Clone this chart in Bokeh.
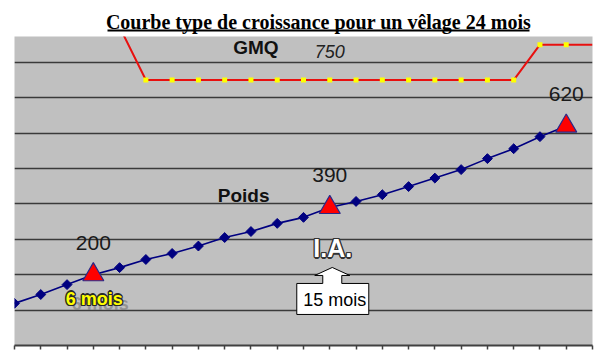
import numpy as np
from bokeh.plotting import figure
from bokeh.layouts import column
from bokeh.models import Range1d, FixedTicker, ColumnDataSource, CustomJSTickFormatter, CDSView, BooleanFilter
from bokeh.core.properties import value
from bokeh.embed import file_html
from bokeh.resources import INLINE

# ---------------- data ----------------
title_text = "Courbe type de croissance pour un vêlage 24 mois"

months = [3, 4, 5, 6, 7, 8, 9, 10, 11, 12, 13, 14, 15, 16, 17, 18, 19, 20, 21, 22, 23, 24]
poids = [119, 144, 172, 200, 220, 243, 260, 281, 305, 322, 345, 362, 390, 407, 426, 449, 473, 497, 528, 556, 590, 620]

key_months = [6, 15, 24]
key_poids = [200, 390, 620]
key_labels = ["200", "390", "620"]

gmq_months = [7, 8, 9, 10, 11, 12, 13, 14, 15, 16, 17, 18, 19, 20, 21, 22, 23, 24, 25]
gmq = [900, 750, 750, 750, 750, 750, 750, 750, 750, 750, 750, 750, 750, 750, 750, 750, 850, 850, 850]
gmq_label_month = 15

grid_values = [100, 200, 300, 400, 500, 600, 700, 800]
tick_months = [3, 4, 5, 6, 7, 8, 9, 10, 11, 12, 13, 14, 15, 16, 17, 18, 19, 20, 21, 22, 23, 24, 25]

ia_month = 15
ia_poids = 390

# ---------------- layout constants ----------------
W = 604
TOP_H = 36
MAIN_H = 322
BL, BR, BT, BB = 14, 12, 0, 13
X0, X1 = 3, 25
Y0, Y1 = 0, 873
X_PX = (W - BL - BR) / (X1 - X0)
Y_PX = (MAIN_H - BT - BB) / (Y1 - Y0)
LIFT = -5  # text baseline correction in screen px

SANS = value("Liberation Sans")


def outlined_text(fig, x, y, text, color, outline, size, xo, yo, style="bold"):
    for dx, dy in [(-1, -1), (1, -1), (-1, 1), (1, 1), (0, -1.3), (0, 1.3), (-1.3, 0), (1.3, 0)]:
        fig.text(x=x, y=y, text=text, text_font=SANS, text_font_style=style,
                 text_font_size=size, text_align="center", text_baseline="alphabetic",
                 text_color=outline, x_offset=xo + dx, y_offset=yo + dy)
    fig.text(x=x, y=y, text=text, text_font=SANS, text_font_style=style,
             text_font_size=size, text_align="center", text_baseline="alphabetic",
             text_color=color, x_offset=xo, y_offset=yo)


# ---------------- title figure (pixel coordinates; frames are aligned by the column) ----------------
ft = figure(width=W, height=TOP_H, x_range=Range1d(BL, W - BR), y_range=Range1d(TOP_H, 0),
            toolbar_location=None, output_backend="svg",
            x_axis_location=None, y_axis_location=None,
            min_border_left=BL, min_border_right=BR, min_border_top=0, min_border_bottom=0)
ft.outline_line_color = None
ft.grid.visible = False
ft.background_fill_color = "white"
ft.border_fill_color = "white"
ft.text(x=[318], y=[26], text=[title_text], text_font=value("Liberation Serif"),
        text_font_style="bold", text_font_size="20px", text_align="center",
        text_baseline="alphabetic", text_color="black", y_offset=LIFT)
ft.segment(x0=[107], x1=[529], y0=[30], y1=[30], line_width=2, line_color="black")

# ---------------- main figure ----------------
p = figure(width=W, height=MAIN_H, x_range=Range1d(X0, X1), y_range=Range1d(Y0, Y1),
           toolbar_location=None, output_backend="svg", y_axis_location=None,
           min_border_left=BL, min_border_right=BR, min_border_top=BT, min_border_bottom=BB)
p.background_fill_color = "#C0C0C0"
p.border_fill_color = "white"
p.outline_line_color = None

p.xgrid.visible = False
p.ygrid.ticker = FixedTicker(ticks=grid_values)
p.ygrid.grid_line_color = "#3a3a3a"
p.ygrid.grid_line_width = 1.6

p.xaxis.ticker = FixedTicker(ticks=tick_months)
p.xaxis.formatter = CustomJSTickFormatter(code="return ''")
p.xaxis.major_label_text_font_size = "8px"
p.xaxis.major_label_standoff = 0
p.xaxis.axis_line_color = "#404040"
p.xaxis.axis_line_width = 2
p.xaxis.major_tick_line_color = "#404040"
p.xaxis.major_tick_line_width = 1.5
p.xaxis.major_tick_out = 4
p.xaxis.major_tick_in = 0
p.xaxis.minor_tick_line_color = None

# GMQ series
gsrc = ColumnDataSource(dict(x=gmq_months, y=gmq))
p.line("x", "y", source=gsrc, line_color="#E8100F", line_width=2)
gview = CDSView(filter=BooleanFilter([(m <= 24 and v <= Y1) for m, v in zip(gmq_months, gmq)]))
p.scatter("x", "y", source=gsrc, view=gview, marker="square", size=5,
          fill_color="#FFFF00", line_color=None)
gi = gmq_months.index(gmq_label_month)
p.text(x=[gmq_months[gi]], y=[gmq[gi]], text=[str(gmq[gi])], text_font=SANS,
       text_font_style="italic", text_font_size="18px", text_align="center",
       text_baseline="alphabetic", text_color="#222222", y_offset=-24 + LIFT)
p.text(x=[12.19], y=[837], text=["GMQ"], text_font=SANS, text_font_style="bold",
       text_font_size="19px", text_align="center", text_baseline="alphabetic",
       text_color="#111111", y_offset=LIFT + 3)

# Poids series
psrc = ColumnDataSource(dict(x=months, y=poids))
p.line("x", "y", source=psrc, line_color="#000080", line_width=1.6)
p.scatter("x", "y", source=psrc, marker="square", angle=np.pi / 4, size=7,
          fill_color="#000080", line_color="#000080")
p.text(x=[11.72], y=[407], text=["Poids"], text_font=SANS, text_font_style="bold",
       text_font_size="19px", text_align="center", text_baseline="alphabetic",
       text_color="#111111", y_offset=LIFT - 1)

ksrc = ColumnDataSource(dict(x=key_months, y=key_poids, t=key_labels))
p.scatter("x", "y", source=ksrc, marker="triangle", size=21,
          fill_color="#FF0000", line_color="#2a2a8a", line_width=1.2)
p.text("x", "y", text="t", source=ksrc, text_font=SANS, text_font_size="21px",
       text_align="center", text_baseline="alphabetic", text_color="#1a1a1a",
       y_offset=-27 + LIFT)

# "6 mois" with shadow and outline
p.text(x=[key_months[0]], y=[key_poids[0]], text=["6 mois"], text_font=SANS,
       text_font_style="bold", text_font_size="18px", text_align="center",
       text_baseline="alphabetic", text_color="#808080", text_alpha=0.7,
       x_offset=7, y_offset=34 + LIFT)
outlined_text(p, [key_months[0]], [key_poids[0]], ["6 mois"], "#FFFF00", "#2a2a2a",
              "18px", 1, 29 + LIFT)

# "I.A." outlined white
outlined_text(p, [ia_month], [ia_poids], ["I.A."], "white", "#333333", "25px", 3, 46 + LIFT)

# up-arrow callout "15 mois" (offsets in screen px from the I.A. point)
offs = [(-33, 107), (-33, 76), (-7, 76), (-7, 68), (-15, 68), (2.5, 60), (20, 68),
        (12, 68), (12, 76), (39, 76), (39, 107)]
cx = [ia_month + dx / X_PX for dx, dy in offs]
cy = [ia_poids - dy / Y_PX for dx, dy in offs]
p.patch(cx, cy, fill_color="white", line_color="black", line_width=1)
p.text(x=[ia_month], y=[ia_poids], text=["15 mois"], text_font=SANS,
       text_font_size="18px", text_align="center", text_baseline="alphabetic",
       text_color="black", x_offset=5, y_offset=97 + LIFT + 1)

layout = column(ft, p)
open("out.html", "w").write(file_html(layout, INLINE))
